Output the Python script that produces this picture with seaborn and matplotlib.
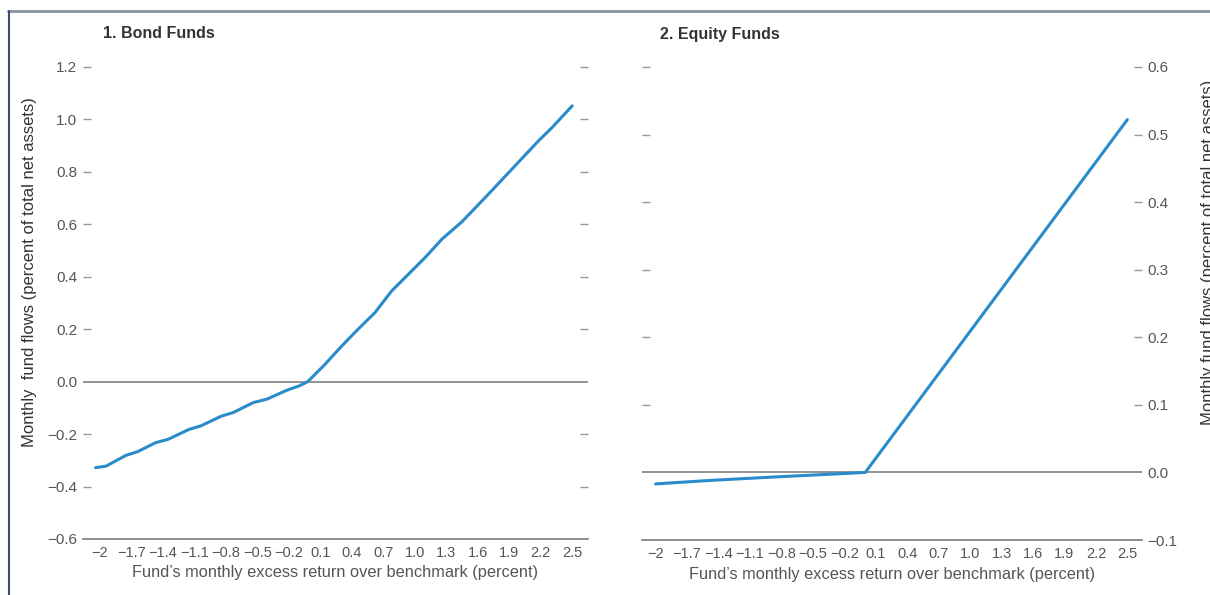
import matplotlib
matplotlib.use("Agg")
import matplotlib.pyplot as plt
import pandas as pd
import seaborn as sns
from matplotlib.lines import Line2D

# panel 1: bond funds
bond_x = [-2.04, -1.94, -1.75, -1.64, -1.47, -1.35, -1.15, -1.04, -0.84, -0.73,
          -0.54, -0.41, -0.22, -0.10, -0.02, 0.14, 0.30, 0.46, 0.62, 0.78,
          0.94, 1.10, 1.26, 1.45, 1.73, 1.83, 2.18, 2.31, 2.50]
bond_y = [-0.328, -0.322, -0.281, -0.267, -0.233, -0.220, -0.182, -0.169, -0.131, -0.118,
          -0.080, -0.067, -0.033, -0.016, 0.0, 0.064, 0.134, 0.200, 0.263, 0.346,
          0.410, 0.474, 0.544, 0.610, 0.727, 0.770, 0.919, 0.970, 1.052]

# panel 2: equity funds
equity_x = [-2.0, -1.5, -0.9, -0.25, 0.0, 2.5]
equity_y = [-0.017, -0.012, -0.007, -0.002, 0.0, 0.522]

xticks = [-2, -1.7, -1.4, -1.1, -0.8, -0.5, -0.2, 0.1, 0.4, 0.7, 1.0, 1.3, 1.6, 1.9, 2.2, 2.5]
xtick_labels = ["\u22122", "\u22121.7", "\u22121.4", "\u22121.1", "\u22120.8", "\u22120.5", "\u22120.2",
                "0.1", "0.4", "0.7", "1.0", "1.3", "1.6", "1.9", "2.2", "2.5"]
bond_yticks = [-0.6, -0.4, -0.2, 0.0, 0.2, 0.4, 0.6, 0.8, 1.0, 1.2]
equity_yticks = [-0.1, 0.0, 0.1, 0.2, 0.3, 0.4, 0.5, 0.6]

sns.set_style("white")
plt.rcParams["font.family"] = ["Liberation Sans Narrow", "Liberation Sans", "DejaVu Sans"]

line_color = "#2a8bcb"
grey = "#7a7a7a"
text_grey = "#555555"

fig = plt.figure(figsize=(12.1, 5.95), dpi=100)
ax1 = fig.add_axes([83 / 1210, 1 - 539 / 595, 505 / 1210, 472 / 595])
ax2 = fig.add_axes([642 / 1210, 1 - 540 / 595, 500 / 1210, 473 / 595])


def fmt(v):
    s = f"{v:.1f}"
    return s.replace("-", "\u2212")


def style(ax, yticks, xlim, ylim, left_labels):
    ax.set_xlim(*xlim)
    ax.set_ylim(*ylim)
    for s in ["top", "left", "right"]:
        ax.spines[s].set_visible(False)
    ax.spines["bottom"].set_color(grey)
    ax.spines["bottom"].set_linewidth(1.2)
    ax.axhline(0, color="#8a8a8a", lw=1.3, zorder=1)
    ax.set_xticks(xticks)
    ax.set_xticklabels(xtick_labels)
    ax.tick_params(axis="x", direction="in", length=5, width=1, color=grey,
                   labelsize=10.5, labelcolor=text_grey, pad=5)
    ax.set_yticks(yticks)
    ax.set_yticklabels([fmt(v) for v in yticks])
    ax.tick_params(axis="y", which="both", direction="in", length=6, width=1, color="#999999",
                   left=True, right=True, labelleft=left_labels, labelright=not left_labels,
                   labelsize=11, labelcolor=text_grey, pad=4)
    ax.set_xlabel("Fund\u2019s monthly excess return over benchmark (percent)",
                  fontsize=11.75, color=text_grey, labelpad=4)
    ax.set_ylabel("")


df1 = pd.DataFrame({"x": bond_x, "y": bond_y})
sns.lineplot(data=df1, x="x", y="y", ax=ax1, color=line_color, lw=2.2, zorder=3)
style(ax1, bond_yticks, (-2.16, 2.65), (-0.6, 1.2), True)
# no tick marks where the spine and zero line sit
for i in [0, 3]:
    ax1.yaxis.get_major_ticks()[i].tick1line.set_visible(False)
    ax1.yaxis.get_major_ticks()[i].tick2line.set_visible(False)

df2 = pd.DataFrame({"x": equity_x, "y": equity_y})
sns.lineplot(data=df2, x="x", y="y", ax=ax2, color=line_color, lw=2.2, zorder=3)
style(ax2, equity_yticks, (-2.13, 2.64), (-0.1, 0.6), False)
for i in [0, 1]:
    ax2.yaxis.get_major_ticks()[i].tick1line.set_visible(False)
    ax2.yaxis.get_major_ticks()[i].tick2line.set_visible(False)

fig.text(103 / 1210, 1 - 34 / 595, "1. Bond Funds", fontsize=11.5, fontweight="bold",
         color="#333333", va="center", ha="left")
fig.text(660 / 1210, 1 - 34 / 595, "2. Equity Funds", fontsize=11.5, fontweight="bold",
         color="#333333", va="center", ha="left")

fig.text(30 / 1210, 1 - 272 / 595, "Monthly  fund flows (percent of total net assets)",
         rotation=90, fontsize=12, color="#333333", va="center", ha="center")
fig.text(1209 / 1210, 1 - 252 / 595, "Monthly fund flows (percent of total net assets)",
         rotation=90, fontsize=12, color="#333333", va="center", ha="center")

# outer frame lines
fig.add_artist(Line2D([8 / 1210, 1.0], [1 - 11 / 595, 1 - 11 / 595], transform=fig.transFigure,
                      color="#8893a6", lw=2))
fig.add_artist(Line2D([9 / 1210, 9 / 1210], [0, 1 - 11 / 595], transform=fig.transFigure,
                      color="#3d4d70", lw=1.5))

fig.savefig("out.png", dpi=100)
